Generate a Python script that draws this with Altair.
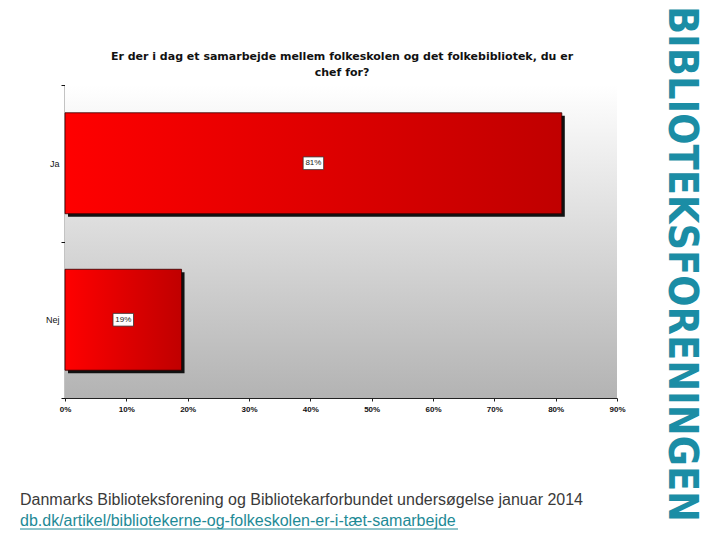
import altair as alt
import pandas as pd

categories = ["Ja", "Nej"]
values = [0.81, 0.19]
value_labels = ["81%", "19%"]
x_ticks = [0, 0.1, 0.2, 0.3, 0.4, 0.5, 0.6, 0.7, 0.8, 0.9]
title_lines = ["Er der i dag et samarbejde mellem folkeskolen og det folkebibliotek, du er", "chef for?"]
logo_text = "BIBLIOTEKSFORENINGEN"
footer_line1 = "Danmarks Biblioteksforening og Bibliotekarforbundet undersøgelse januar 2014"
footer_line2 = "db.dk/artikel/bibliotekerne-og-folkeskolen-er-i-tæt-samarbejde"

df = pd.DataFrame({"cat": categories, "val": values, "lab": value_labels})

W, H = 552, 313
TEAL = "#1b8da5"

x_enc = alt.X("val:Q", scale=alt.Scale(domain=[0, 0.9], nice=False),
              axis=alt.Axis(values=x_ticks, format=".0%", title=None, grid=False,
                            labelFontSize=8, labelFontWeight="bold", labelColor="#111",
                            labelFont="Liberation Sans", domainColor="#222", tickColor="#222",
                            tickSize=3, labelPadding=4, labelFlush=False))
y_enc = alt.Y("cat:N", sort=categories,
              scale=alt.Scale(paddingInner=0, paddingOuter=0),
              axis=alt.Axis(title=None, labelFontSize=9, labelColor="#111",
                            labelFont="Liberation Sans", domainColor="#111", domainWidth=1.5,
                            tickColor="#111", tickSize=4, tickBand="extent", labelPadding=2))

base = alt.Chart(df)

bg = alt.Chart(pd.DataFrame({"t": ["bg"]})).mark_rect(
    color=alt.LinearGradient(gradient="linear", x1=0, x2=0, y1=0, y2=1,
                             stops=[alt.GradientStop(color="#ffffff", offset=0),
                                    alt.GradientStop(color="#b3b3b3", offset=1)])
).encode(x=alt.value(0), x2=alt.value(W), y=alt.value(0), y2=alt.value(H))

shadow = base.mark_bar(color="#111", xOffset=3, yOffset=3, height={"band": 0.645}).encode(x=x_enc, y=y_enc)
bars = base.mark_bar(
    color=alt.LinearGradient(gradient="linear", x1=0, x2=1, y1=0, y2=0,
                             stops=[alt.GradientStop(color="#ff0000", offset=0),
                                    alt.GradientStop(color="#c00000", offset=1)]),
    stroke="#330000", strokeWidth=0.8, height={"band": 0.645},
).encode(x=x_enc, y=y_enc)

mid = base.transform_calculate(half="datum.val / 2")
boxes = mid.mark_point(
    shape="M-1,-0.62L1,-0.62L1,0.62L-1,0.62Z", size=420, filled=True,
    fill="white", stroke="#333", strokeWidth=0.8, opacity=1,
).encode(x=alt.X("half:Q"), y=alt.Y("cat:N", sort=categories))
labels = mid.mark_text(fontSize=8, color="#222", font="Liberation Sans").encode(
    x=alt.X("half:Q"), y=alt.Y("cat:N", sort=categories), text="lab:N")

def note(text, **kw):
    return alt.Chart(pd.DataFrame({"t": [text]})).mark_text(**kw).encode(text="t:N")

title1 = note(title_lines[0], font="DejaVu Sans", fontWeight="bold", fontSize=11,
              color="#111", align="center", baseline="alphabetic").encode(
    x=alt.value(W / 2 + 1), y=alt.value(-25))
title2 = note(title_lines[1], font="DejaVu Sans", fontWeight="bold", fontSize=11,
              color="#111", align="center", baseline="alphabetic").encode(
    x=alt.value(W / 2 + 1), y=alt.value(-9))

logo = note(logo_text, font="DejaVu Sans Condensed", fontWeight="bold", fontSize=41,
            color=TEAL, angle=90, align="left", baseline="alphabetic").encode(
    x=alt.value(604), y=alt.value(-79))

foot1 = note(footer_line1, font="Liberation Sans", fontSize=16, color="#3a3a3a",
             align="left", baseline="alphabetic").encode(x=alt.value(-45), y=alt.value(420))
foot2 = note(footer_line2, font="Liberation Sans", fontSize=16, color="#1e8a96",
             align="left", baseline="alphabetic").encode(x=alt.value(-45), y=alt.value(441))
underline = alt.Chart(pd.DataFrame({"t": [footer_line2]})).mark_rule(
    color="#1e8a96", strokeWidth=1).encode(
    x=alt.value(-45), x2=alt.value(393), y=alt.value(444))

chart = alt.layer(bg, shadow, bars, boxes, labels, title1, title2, logo, foot1, foot2, underline).properties(
    width=W, height=H,
    autosize=alt.AutoSizeParams(type="none"),
    padding={"left": 57, "top": 77, "right": 95, "bottom": 134},
    background="white",
).configure_view(stroke=None)

chart.save("out.html", embed_options={"renderer": "svg", "actions": False})
